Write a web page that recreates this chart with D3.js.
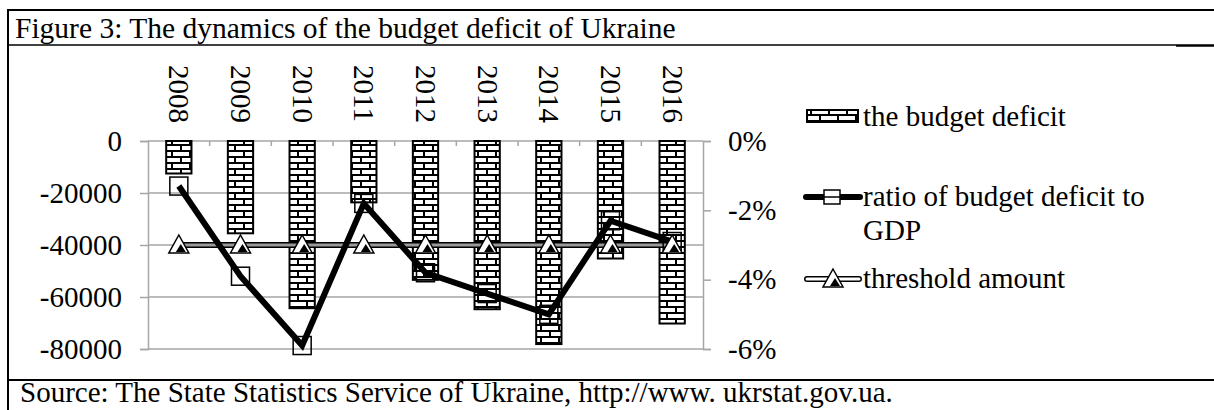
<!DOCTYPE html>
<html>
<head>
<meta charset="utf-8">
<script src="https://cdn.jsdelivr.net/npm/d3@7"></script>
<style>
  body { margin: 0; background: #fff; }
  text { font-family: "Liberation Serif", "Times New Roman", serif; fill: #000; }
</style>
</head>
<body>
<svg id="chart" width="1214" height="410"></svg>
<script>
// data
const years = ["2008", "2009", "2010", "2011", "2012", "2013", "2014", "2015", "2016"];
const deficit = [-12500, -35500, -64300, -23600, -53400, -64700, -78100, -45200, -70200]; // mln UAH
const ratio = [-1.3, -3.9, -5.9, -1.8, -3.8, -4.4, -5.0, -2.3, -2.9]; // % of GDP
const threshold = [-3, -3, -3, -3, -3, -3, -3, -3, -3];
const leftTicks = [0, -20000, -40000, -60000, -80000];
const rightTicks = [0, -2, -4, -6];
const legendNames = ["the budget deficit", "ratio of budget deficit to", "GDP", "threshold amount"];

const svg = d3.select("#chart");
const fs = 29;
const serif = '"Liberation Serif", "Times New Roman", serif';

// frame of the figure box
svg.append("line").attr("x1", 8).attr("x2", 1214).attr("y1", 10).attr("y2", 10).attr("stroke", "#000").attr("stroke-width", 2);
svg.append("line").attr("x1", 8).attr("x2", 8).attr("y1", 9).attr("y2", 410).attr("stroke", "#000").attr("stroke-width", 2);
svg.append("line").attr("x1", 8).attr("x2", 1176).attr("y1", 45).attr("y2", 45).attr("stroke", "#000").attr("stroke-width", 1.5);
svg.append("line").attr("x1", 1176).attr("x2", 1214).attr("y1", 45.5).attr("y2", 45.5).attr("stroke", "#000").attr("stroke-width", 2.5);
svg.append("line").attr("x1", 8).attr("x2", 1214).attr("y1", 380).attr("y2", 380).attr("stroke", "#000").attr("stroke-width", 2);

svg.append("text").attr("x", 15).attr("y", 38).attr("font-size", 29.5).text("Figure 3: The dynamics of the budget deficit of Ukraine");
svg.append("text").attr("x", 20).attr("y", 402).attr("font-size", fs).text("Source: The State Statistics Service of Ukraine, http://www. ukrstat.gov.ua.");

// brick pattern
const defs = svg.append("defs");
const pat = defs.append("pattern").attr("id", "brick")
  .attr("patternUnits", "userSpaceOnUse").attr("width", 18).attr("height", 12);
pat.append("rect").attr("width", 18).attr("height", 12).attr("fill", "#fff");
pat.append("path").attr("d", "M0,1H18M0,7H18M1,1V7M10,7V13").attr("stroke", "#000").attr("stroke-width", 2).attr("fill", "none");

// scales
const x = d3.scaleBand().domain(years).range([148, 703]).paddingInner(0.59).paddingOuter(0.295);
const yL = d3.scaleLinear().domain([-80000, 0]).range([349, 141]);
const yR = d3.scaleLinear().domain([-6, 0]).range([349, 141]);
const cx = d => x(d) + x.bandwidth() / 2;

// gridlines
svg.append("g").selectAll("line").data(leftTicks).join("line")
  .attr("x1", 148).attr("x2", 703)
  .attr("y1", d => yL(d)).attr("y2", d => yL(d))
  .attr("stroke", "#a6a6a6").attr("stroke-width", 1.5);

// left axis
const gL = svg.append("g").attr("transform", "translate(148,0)")
  .call(d3.axisLeft(yL).tickValues(leftTicks).tickSize(8).tickPadding(18).tickFormat(d => String(d)));
// right axis
const gR = svg.append("g").attr("transform", "translate(703,0)")
  .call(d3.axisRight(yR).tickValues(rightTicks).tickSize(8).tickPadding(17).tickFormat(d => d + "%"));
[gL, gR].forEach(g => {
  g.attr("font-family", null);
  g.select(".domain").attr("stroke", "#a6a6a6").attr("stroke-width", 1.5);
  g.selectAll(".tick line").attr("stroke", "#a6a6a6").attr("stroke-width", 1.5);
  g.selectAll(".tick text").attr("font-size", fs).style("font-family", serif).attr("fill", "#000");
});

// category boundary ticks on the zero line
svg.append("g").selectAll("line").data(years.slice(1)).join("line")
  .attr("x1", d => x(d) - x.step() * x.paddingInner() / 2).attr("x2", d => x(d) - x.step() * x.paddingInner() / 2)
  .attr("y1", yL(0)).attr("y2", yL(0) + 5)
  .attr("stroke", "#a6a6a6").attr("stroke-width", 1.5);

// year labels, rotated
svg.append("g").selectAll("text").data(years).join("text")
  .attr("transform", d => `translate(${cx(d)},${65}) rotate(90)`)
  .attr("dy", "0.33em").attr("font-size", fs).text(d => d);

// bars
svg.append("g").selectAll("rect").data(deficit).join("rect")
  .attr("x", (d, i) => x(years[i]))
  .attr("y", yL(0))
  .attr("width", x.bandwidth())
  .attr("height", d => yL(d) - yL(0))
  .attr("fill", "url(#brick)").attr("stroke", "#000").attr("stroke-width", 2);

// threshold line (hollow)
const lineT = d3.line().x((d, i) => cx(years[i])).y(d => yR(d));
svg.append("path").datum(threshold).attr("d", lineT).attr("fill", "none").attr("stroke", "#000").attr("stroke-width", 6);
svg.append("path").datum(threshold).attr("d", lineT).attr("fill", "none").attr("stroke", "#9a9a9a").attr("stroke-width", 3);

// ratio line
svg.append("path").datum(ratio).attr("d", lineT).attr("fill", "none").attr("stroke", "#000").attr("stroke-width", 6).attr("stroke-linejoin", "miter");
svg.append("g").selectAll("rect").data(ratio).join("rect")
  .attr("x", (d, i) => cx(years[i]) - 9).attr("y", d => yR(d) - 9)
  .attr("width", 18).attr("height", 18)
  .attr("fill", "none").attr("stroke", "#000").attr("stroke-width", 1.5);

// triangle markers
function tri(g, px, py) {
  g.append("path").attr("d", `M${px},${py - 10}L${px + 10},${py + 8}L${px - 10},${py + 8}Z`)
    .attr("fill", "#fff").attr("stroke", "#000").attr("stroke-width", 1.5);
  g.append("path").attr("d", `M${px + 2},${py - 1}L${px + 7},${py + 7}L${px - 3},${py + 7}Z`).attr("fill", "#000");
}
const gT = svg.append("g");
threshold.forEach((d, i) => tri(gT, cx(years[i]), yR(d)));

// legend
const lg = svg.append("g");
lg.append("rect").attr("x", 807).attr("y", 110).attr("width", 51).attr("height", 12)
  .attr("fill", "url(#brick)").attr("stroke", "#000").attr("stroke-width", 2);
lg.append("text").attr("x", 863).attr("y", 126).attr("font-size", fs).text(legendNames[0]);

lg.append("line").attr("x1", 806).attr("x2", 860).attr("y1", 197).attr("y2", 197).attr("stroke", "#000").attr("stroke-width", 6).attr("stroke-linecap", "round");
lg.append("rect").attr("x", 824).attr("y", 190).attr("width", 16).attr("height", 14).attr("fill", "#fff").attr("stroke", "#000").attr("stroke-width", 1.5);
lg.append("line").attr("x1", 824).attr("x2", 840).attr("y1", 197).attr("y2", 197).attr("stroke", "#000").attr("stroke-width", 1.5);
lg.append("text").attr("x", 863).attr("y", 206).attr("font-size", fs).text(legendNames[1]);
lg.append("text").attr("x", 863).attr("y", 240).attr("font-size", fs).text(legendNames[2]);

lg.append("line").attr("x1", 807).attr("x2", 859).attr("y1", 279).attr("y2", 279).attr("stroke", "#000").attr("stroke-width", 6).attr("stroke-linecap", "round");
lg.append("line").attr("x1", 807).attr("x2", 859).attr("y1", 279).attr("y2", 279).attr("stroke", "#fff").attr("stroke-width", 3).attr("stroke-linecap", "round");
tri(lg, 833, 279);
lg.append("text").attr("x", 863).attr("y", 288).attr("font-size", fs).text(legendNames[3]);
</script>
</body>
</html>
